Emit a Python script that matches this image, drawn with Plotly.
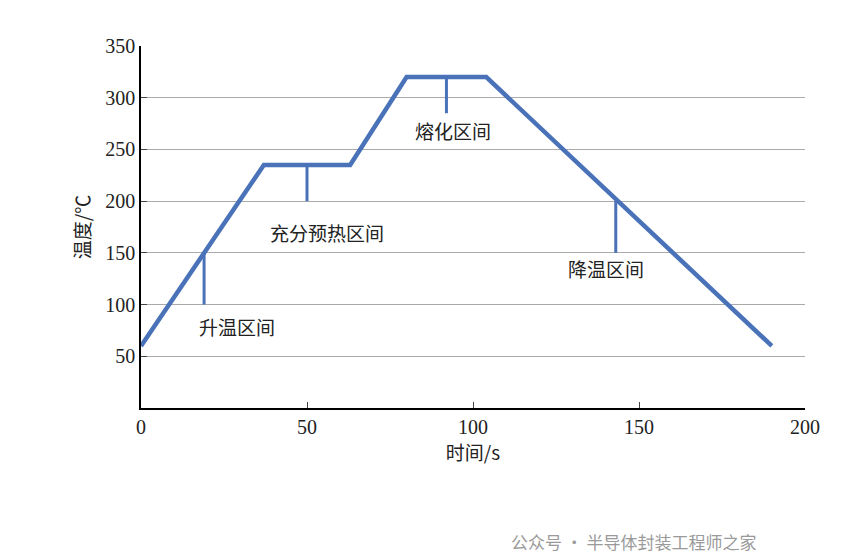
import plotly.graph_objects as go

# sintering profile
time_s = [0, 37, 63, 80, 104, 190]
temp_c = [60, 235, 235, 320, 320, 60]

# region markers: x, top y, bottom y, label position x, y, text
mark_x = [19, 50, 92, 143]
mark_top = [150, 235, 320, 200]
mark_bot = [100, 200, 285, 150]
label_x = [29, 56, 94, 140]
label_y = [79, 170, 268, 135]
labels = ["升温区间", "充分预热区间", "熔化区间", "降温区间"]

BLUE = "#4a72b8"
CJK = "Noto Sans CJK SC"
SERIF = "Liberation Serif"

fig = go.Figure()
fig.add_trace(go.Scatter(x=time_s, y=temp_c, mode="lines",
                         line=dict(color=BLUE, width=4.5), showlegend=False))
for i in range(len(mark_x)):
    fig.add_trace(go.Scatter(x=[mark_x[i], mark_x[i]], y=[mark_top[i], mark_bot[i]],
                             mode="lines", line=dict(color=BLUE, width=3), showlegend=False))
    fig.add_annotation(x=label_x[i], y=label_y[i], text=labels[i], showarrow=False,
                       font=dict(family=CJK, size=19, color="#222"))

fig.update_layout(
    width=865, height=556, paper_bgcolor="white", plot_bgcolor="white",
    margin=dict(l=133, r=68, t=38, b=156),
    font=dict(family=SERIF, size=20, color="#222"),
    xaxis=dict(range=[0, 200], dtick=50, showgrid=False, showline=True, linecolor="black",
               linewidth=1.5, ticks="inside", ticklen=6, zeroline=False,
               title=dict(text="时间/s", font=dict(family=CJK, size=19), standoff=8)),
    yaxis=dict(range=[0, 350], tickvals=[50, 100, 150, 200, 250, 300, 350], showgrid=True,
               gridcolor="#aaaaaa", gridwidth=1, showline=True, linecolor="black", linewidth=1.5,
               ticks="inside", ticklen=6, zeroline=False,
               title=dict(text="温度/℃", font=dict(family=CJK, size=19), standoff=10)),
)
fig.add_annotation(x=0.37, y=-0.48, xref="paper", yref="paper", text="图 6　烧结曲线示意图",
                   showarrow=False, font=dict(family=CJK, size=20, color="#222"))
fig.add_annotation(x=0.93, y=-0.41, xref="paper", yref="paper", text="公众号 · 半导体封装工程师之家",
                   showarrow=False, font=dict(family=CJK, size=17, color="#9a9a9a"))

fig.write_html("out.html")
